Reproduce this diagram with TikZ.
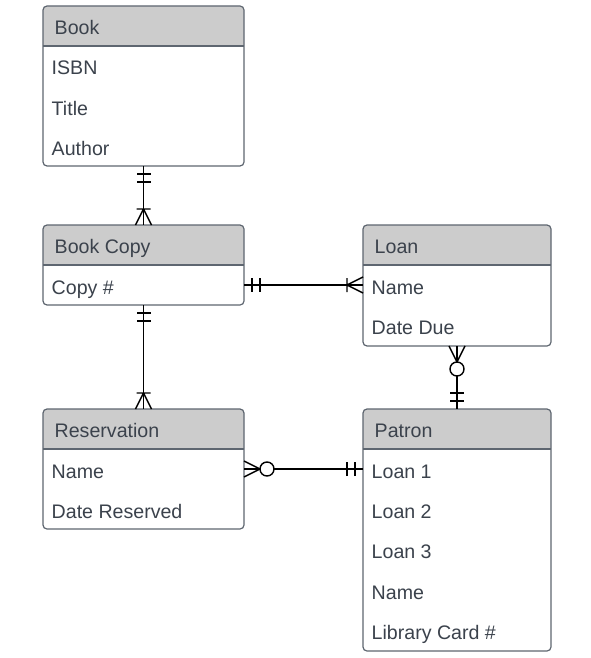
\documentclass[tikz,border=0pt]{standalone}
\usepackage{fontspec}
\setmainfont{Liberation Sans}
\definecolor{txt}{HTML}{3B424C}
\definecolor{brd}{HTML}{5E6670}
\definecolor{hdr}{HTML}{CCCCCC}
\tikzset{
  ttl/.style={anchor=west, inner sep=0pt, text=txt, font=\fontsize{19.6}{22}\selectfont, text height=14pt, text depth=0pt},
  erow/.style={ttl},
  rel/.style={line width=1.4pt, draw=black},
  border/.style={draw=brd, line width=1.2pt},
}
\newcommand\entity[6]{%
  \node[minimum width=#4pt, minimum height=#5pt, inner sep=0pt, outer sep=0pt, anchor=north west] (#1) at (#2,#3) {};
  \fill[hdr] ([yshift=-40pt]#1.north west) [rounded corners=4pt] -- (#1.north west) -- (#1.north east) [sharp corners] -- ([yshift=-40pt]#1.north east) -- cycle;
  \draw[border] ([yshift=-40pt]#1.north west) -- ([yshift=-40pt]#1.north east);
  \draw[border, rounded corners=4pt] (#1.north west) rectangle (#1.south east);
  \node[ttl] (#1t) at ([xshift=11.5pt, yshift=-21.5pt]#1.north west) {#6};
}
\newcommand\attr[4]{% name, entity, index, text
  \node[erow] (#1) at ([xshift=8.5pt, yshift=-21.6pt-40.4pt*#3]#2.north west) {#4};
}
\newcommand\mkone[2]{\begin{scope}[shift={(#1)}, rotate=#2]
  \draw[rel] (8,-7) -- (8,7) (16,-7) -- (16,7);\end{scope}}
\newcommand\mkmany[2]{\begin{scope}[shift={(#1)}, rotate=#2]
  \draw[rel] (0,-8) -- (16,0) -- (0,8) (16,-7) -- (16,7);\end{scope}}
\newcommand\mkzeromany[2]{\begin{scope}[shift={(#1)}, rotate=#2]
  \draw[rel] (0,-8) -- (16,0) -- (0,8);
  \draw[rel, fill=white] (23,0) circle[radius=7pt];\end{scope}}
\begin{document}
\begin{tikzpicture}[x=1pt,y=-1pt]
\useasboundingbox (0,0) rectangle (591,658);
\fill[white] (0,0) rectangle (591,658);

\entity{book}{43}{6}{201}{160}{Book}
\attr{book1}{book}{1}{ISBN}
\attr{book2}{book}{2}{Title}
\attr{book3}{book}{3}{Author}

\entity{copy}{43}{225}{201}{80}{Book Copy}
\attr{copy1}{copy}{1}{Copy \#}

\entity{loan}{363}{225}{188}{121}{Loan}
\attr{loan1}{loan}{1}{Name}
\attr{loan2}{loan}{2}{Date Due}

\entity{res}{43}{409}{201}{120}{Reservation}
\attr{res1}{res}{1}{Name}
\attr{res2}{res}{2}{Date Reserved}

\entity{pat}{363}{409}{188}{242}{Patron}
\attr{pat1}{pat}{1}{Loan 1}
\attr{pat2}{pat}{2}{Loan 2}
\attr{pat3}{pat}{3}{Loan 3}
\attr{pat4}{pat}{4}{Name}
\attr{pat5}{pat}{5}{Library Card \#}

% relationship anchors
\coordinate (cl) at ([yshift=-60pt]copy.north east);
\coordinate (rp) at ([yshift=-60pt]res.north east);

% relationships
\draw[rel] (book.south) -- (copy.north);
\mkone{book.south}{-90}
\mkmany{copy.north}{90}

\draw[rel] (copy.south) -- (res.north);
\mkone{copy.south}{-90}
\mkmany{res.north}{90}

\draw[rel] (cl) -- (loan.west |- cl);
\mkone{cl}{0}
\mkmany{loan.west |- cl}{180}

\draw[rel] (loan.south) -- (pat.north);
\mkzeromany{loan.south}{-90}
\mkone{pat.north}{90}

\draw[rel] (rp) -- (pat.west |- rp);
\mkzeromany{rp}{0}
\mkone{pat.west |- rp}{180}
\end{tikzpicture}
\end{document}
